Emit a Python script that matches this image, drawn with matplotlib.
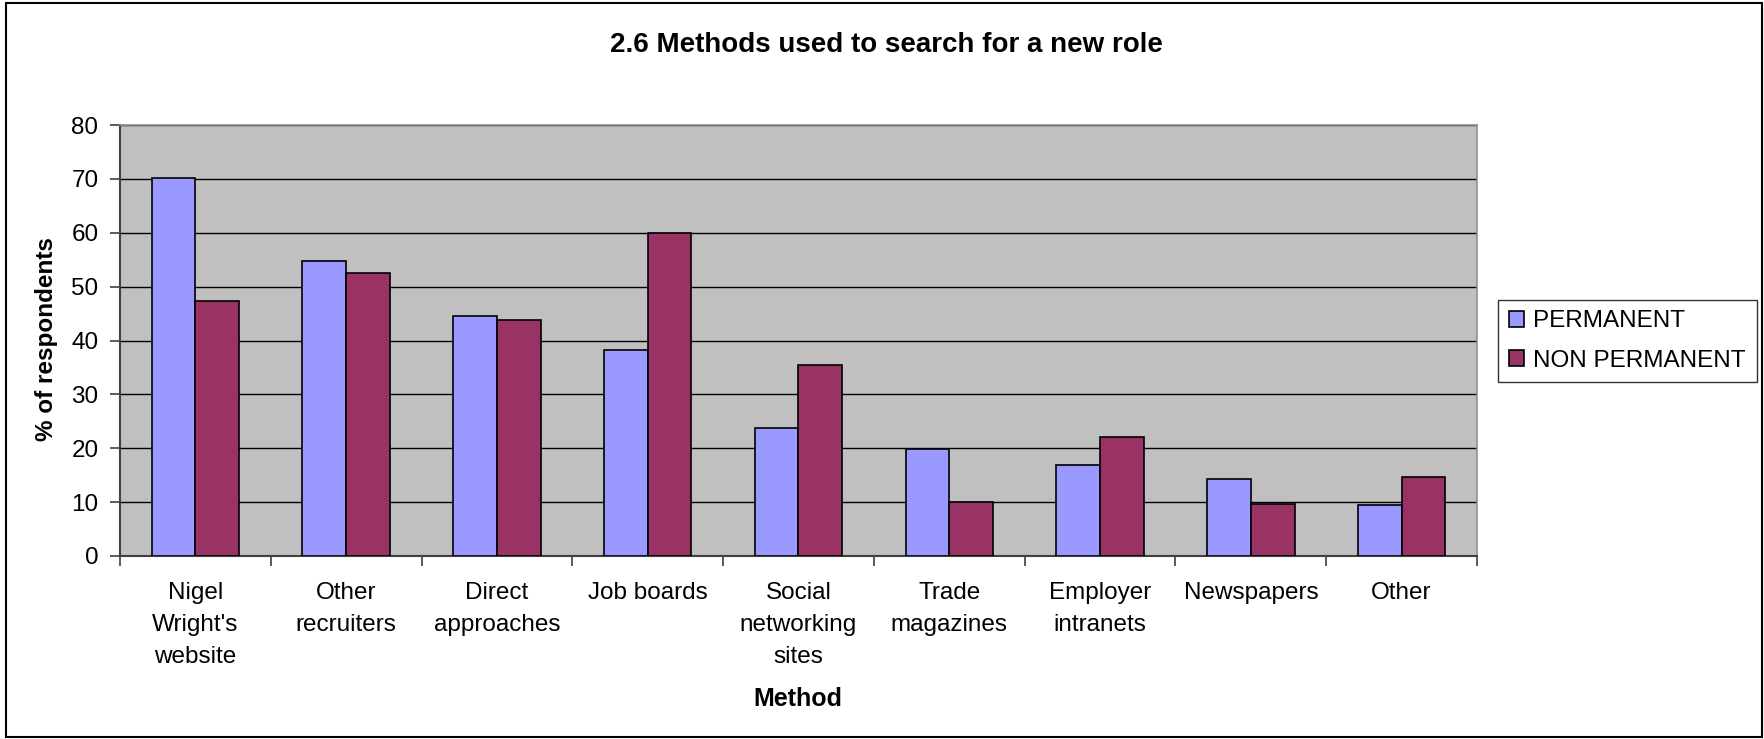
import numpy as np
import matplotlib.pyplot as plt
from matplotlib.patches import Rectangle

plt.rcParams['font.family'] = ['Liberation Sans', 'DejaVu Sans']

# Data
categories = ["Nigel\nWright's\nwebsite", "Other\nrecruiters", "Direct\napproaches",
              "Job boards", "Social\nnetworking\nsites", "Trade\nmagazines",
              "Employer\nintranets", "Newspapers", "Other"]
permanent = [70.1, 54.7, 44.5, 38.2, 23.8, 19.9, 16.8, 14.3, 9.4]
non_permanent = [47.3, 52.6, 43.8, 59.9, 35.4, 10.1, 22.0, 9.7, 14.6]
series_names = ["PERMANENT", "NON PERMANENT"]

W, H = 1765, 739
fs = 17.5
fig = plt.figure(figsize=(W / 100, H / 100), dpi=100)
fig.patch.set_facecolor('white')
ax = fig.add_axes([120 / W, 1 - 556 / H, (1477 - 120) / W, (556 - 125) / H])
ax.set_facecolor('#C0C0C0')

x = np.arange(len(categories))
bw = 0.29
ax.bar(x - bw / 2, permanent, bw, color='#9999FF', edgecolor='black',
       linewidth=1.2, label=series_names[0], zorder=3)
ax.bar(x + bw / 2, non_permanent, bw, color='#993366', edgecolor='black',
       linewidth=1.2, label=series_names[1], zorder=3)

ax.set_xlim(-0.5, len(categories) - 0.5)
ax.set_ylim(0, 80)
ax.set_yticks(range(0, 81, 10))
ax.yaxis.grid(True, color='black', linewidth=1.0, zorder=1)
ax.set_axisbelow(True)

# category labels between boundary ticks
ax.set_xticks(np.arange(-0.5, len(categories), 1.0))
ax.set_xticklabels([])
ax.set_xticks(x, minor=True)
ax.set_xticklabels(categories, minor=True, fontsize=fs, linespacing=1.58, va='top')
ax.tick_params(axis='x', which='minor', length=0, pad=19)
ax.tick_params(axis='x', which='major', length=7.5, width=1.2, color='#404040', direction='out')
ax.tick_params(axis='y', length=7.5, width=1.2, color='#404040', labelsize=fs, pad=8)

for side in ['left', 'bottom']:
    ax.spines[side].set_color('#404040')
    ax.spines[side].set_linewidth(1.5)
for side in ['top', 'right']:
    ax.spines[side].set_color('#909090')
    ax.spines[side].set_linewidth(1.2)

fig.text(47 / W, 1 - 339 / H, '% of respondents', rotation=90, ha='center', va='center',
         fontsize=fs, fontweight='bold')
fig.text(798 / W, 1 - 699 / H, 'Method', ha='center', va='center',
         fontsize=18, fontweight='bold')
fig.text(886 / W, 1 - 45 / H, '2.6 Methods used to search for a new role',
         ha='center', va='center', fontsize=20, fontweight='bold')

leg = ax.legend(loc='center left', bbox_to_anchor=(1498 / W, 1 - 341 / H),
                bbox_transform=fig.transFigure, fontsize=fs, frameon=True,
                fancybox=False, edgecolor='black', handlelength=0.6, handleheight=0.6,
                handletextpad=0.4, borderpad=0.45, labelspacing=0.7, borderaxespad=0)
leg.get_frame().set_linewidth(1.0)

# outer chart border
fig.add_artist(Rectangle((6 / W, 2 / H), (W - 9) / W, (H - 5) / H, transform=fig.transFigure,
                         fill=False, edgecolor='black', linewidth=1.5))

fig.savefig('out.png', dpi=100)
